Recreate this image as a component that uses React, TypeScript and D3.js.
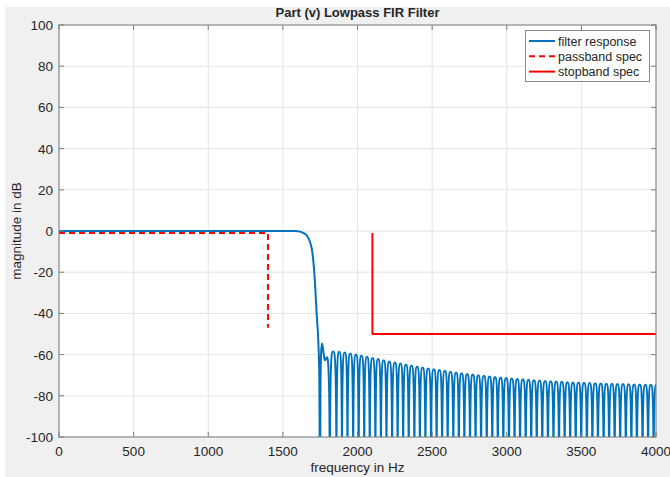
import React from "react";
import * as d3 from "d3";

// axis ticks
const xTicks = [0, 500, 1000, 1500, 2000, 2500, 3000, 3500, 4000];
const yTicks = [-100, -80, -60, -40, -20, 0, 20, 40, 60, 80, 100];

// spec lines [Hz, dB]
const passbandSpec: [number, number][] = [[0, -1], [1400, -1], [1400, -47]];
const stopbandSpec: [number, number][] = [[2100, -1], [2100, -50], [4000, -50]];

// passband + transition + first (double) sidelobe [Hz, dB]
const mainLobe: [number, number][] = [
  [0, 0], [1500, 0], [1580, 0], [1615, -0.3], [1635, -0.9], [1660, -2.2],
  [1693, -8.4], [1711, -20.6], [1727, -40.9], [1738, -54.6], [1744, -70],
  [1749, -130], [1752, -75], [1757, -58], [1762, -54.6], [1768, -56.5],
  [1775, -60.5], [1782, -62.8], [1790, -61.8], [1797, -61.3], [1803, -64],
  [1808, -72], [1812, -88], [1815, -130],
];

// stopband ripple: nulls (Hz) and the peak level of each lobe between them (dB)
const lobeNulls = [
  1815, 1859, 1896, 1933, 1971, 2008, 2045, 2082, 2120, 2157, 2194, 2232,
  2269, 2306, 2343, 2381, 2418, 2455, 2493, 2530, 2567, 2604, 2642, 2679,
  2716, 2754, 2791, 2828, 2866, 2903, 2940, 2977, 3015, 3052, 3089, 3127,
  3164, 3201, 3238, 3276, 3313, 3350, 3388, 3425, 3462, 3499, 3537, 3574,
  3611, 3649, 3686, 3723, 3760, 3798, 3835, 3872, 3910, 3947, 3984, 4021,
];
const lobePeaks = [
  -58.5, -58.6, -59, -59.5, -60, -60.5, -61, -61.6, -62.1, -62.7, -63.3,
  -63.8, -64.3, -64.8, -65.3, -65.8, -66.3, -66.7, -67.1, -67.5, -67.9,
  -68.3, -68.7, -69, -69.4, -69.7, -70, -70.3, -70.6, -70.9, -71.1, -71.4,
  -71.6, -71.8, -72, -72.2, -72.4, -72.6, -72.8, -72.9, -73.1, -73.2,
  -73.4, -73.5, -73.6, -73.7, -73.8, -73.9, -74, -74.1, -74.2, -74.3,
  -74.3, -74.4, -74.5, -74.5, -74.6, -74.6, -74.7,
];

const legendItems = [
  { label: "filter response", color: "#0072BD", dash: "" },
  { label: "passband spec", color: "#FF0000", dash: "6,4" },
  { label: "stopband spec", color: "#FF0000", dash: "" },
];

const W = 670;
const H = 477;
const left = 59;
const right = 656;
const top = 25;
const bottom = 437;
const font = "'Liberation Sans', Arial, Helvetica, sans-serif";
const textColor = "#262626";

export default function App() {
  const x = d3.scaleLinear().domain([0, 4000]).range([left, right]);
  const y = d3.scaleLinear().domain([-100, 100]).range([bottom, top]);

  const line = d3
    .line<[number, number]>()
    .x((d) => x(d[0]))
    .y((d) => y(d[1]));

  const specPath = (pts: [number, number][]) => line.curve(d3.curveLinear)(pts) || "";
  const mainPath = line.curve(d3.curveMonotoneX)(mainLobe) || "";

  // each ripple lobe: steep sides from the null, rounded top at the peak
  const floor = y(-130);
  const p = d3.path();
  p.moveTo(x(lobeNulls[0]), floor);
  lobePeaks.forEach((lv, i) => {
    const xl = x(lobeNulls[i]);
    const xr = x(lobeNulls[i + 1]);
    const xp = (xl + xr) / 2;
    const yp = y(lv);
    const hw = xp - xl;
    p.bezierCurveTo(xl, yp, xp - hw * 0.5, yp, xp, yp);
    p.bezierCurveTo(xp + hw * 0.5, yp, xr, yp, xr, floor);
  });

  const tickLen = 5;

  return (
    <svg
      width={W}
      height={H}
      style={{ position: "absolute", left: 0, top: 0, fontFamily: font }}
    >
      <rect x={5} y={7} width={W - 5} height={H - 7} fill="#f0f0f0" />
      <rect x={left} y={top} width={right - left} height={bottom - top} fill="#fff" />

      <defs>
        <clipPath id="plotClip">
          <rect x={left} y={top} width={right - left} height={bottom - top} />
        </clipPath>
      </defs>

      {/* grid */}
      {xTicks.map((t) => (
        <line key={"gx" + t} x1={x(t)} x2={x(t)} y1={top} y2={bottom} stroke="#e4e4e4" strokeWidth={1} />
      ))}
      {yTicks.map((t) => (
        <line key={"gy" + t} x1={left} x2={right} y1={y(t)} y2={y(t)} stroke="#e4e4e4" strokeWidth={1} />
      ))}

      <g clipPath="url(#plotClip)" fill="none" strokeLinejoin="round">
        <path d={mainPath} stroke="#0072BD" strokeWidth={2} />
        <path d={p.toString()} stroke="#0072BD" strokeWidth={2} />
        <path d={specPath(passbandSpec)} stroke="#FF0000" strokeWidth={2} strokeDasharray="6,4" />
        <path d={specPath(stopbandSpec)} stroke="#FF0000" strokeWidth={2} />
      </g>

      {/* axes box and ticks */}
      <rect x={left} y={top} width={right - left} height={bottom - top} fill="none" stroke="#7d7d7d" strokeWidth={1} />
      {xTicks.map((t) => (
        <g key={"tx" + t}>
          <line x1={x(t)} x2={x(t)} y1={bottom} y2={bottom - tickLen} stroke="#7d7d7d" />
          <line x1={x(t)} x2={x(t)} y1={top} y2={top + tickLen} stroke="#7d7d7d" />
          <text x={x(t)} y={bottom + 19} textAnchor="middle" fontSize={13.5} fill={textColor}>
            {t}
          </text>
        </g>
      ))}
      {yTicks.map((t) => (
        <g key={"ty" + t}>
          <line x1={left} x2={left + tickLen} y1={y(t)} y2={y(t)} stroke="#7d7d7d" />
          <line x1={right} x2={right - tickLen} y1={y(t)} y2={y(t)} stroke="#7d7d7d" />
          <text x={left - 6} y={y(t) + 5} textAnchor="end" fontSize={13.5} fill={textColor}>
            {t}
          </text>
        </g>
      ))}

      <text x={(left + right) / 2} y={17} textAnchor="middle" fontSize={13} fontWeight="bold" fill={textColor}>
        Part (v) Lowpass FIR Filter
      </text>
      <text x={(left + right) / 2} y={472} textAnchor="middle" fontSize={13.5} fill={textColor}>
        frequency in Hz
      </text>
      <text
        transform={`translate(21,${(top + bottom) / 2}) rotate(-90)`}
        textAnchor="middle"
        fontSize={13.5}
        fill={textColor}
      >
        magnitude in dB
      </text>

      {/* legend */}
      <g>
        <rect x={525.5} y={30.5} width={124} height={51} fill="#fff" stroke="#8a8a8a" strokeWidth={1} />
        {legendItems.map((d, i) => (
          <g key={d.label}>
            <line
              x1={529}
              x2={555}
              y1={41 + i * 15.3}
              y2={41 + i * 15.3}
              stroke={d.color}
              strokeWidth={2}
              strokeDasharray={d.dash || undefined}
            />
            <text x={558} y={45.5 + i * 15.3} fontSize={12.5} fill={textColor}>
              {d.label}
            </text>
          </g>
        ))}
      </g>
    </svg>
  );
}
